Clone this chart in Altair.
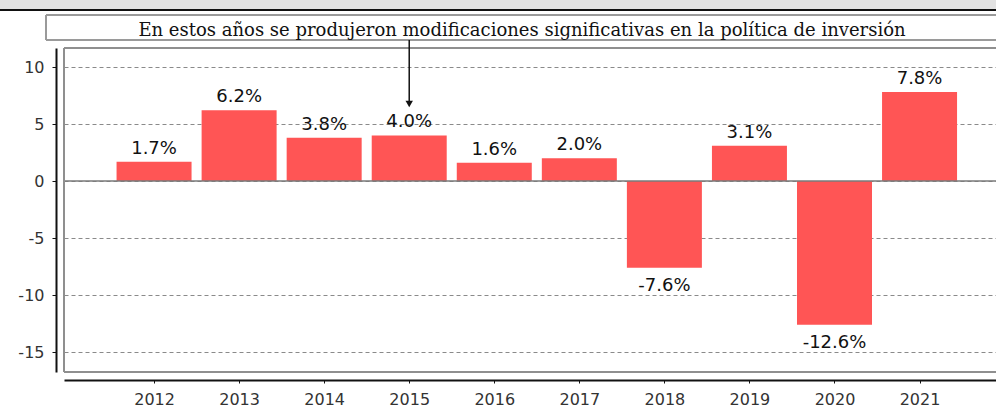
import altair as alt
import pandas as pd

years = [2012, 2013, 2014, 2015, 2016, 2017, 2018, 2019, 2020, 2021]
values = [1.7, 6.2, 3.8, 4.0, 1.6, 2.0, -7.6, 3.1, -12.6, 7.8]
labels = [f"{v:.1f}%" for v in values]
y_ticks = [-15, -10, -5, 0, 5, 10]
note = "En estos años se produjeron modificaciones significativas en la política de inversión"
note_year = 2015

df = pd.DataFrame({"year": years, "value": values, "label": labels})
one = pd.DataFrame({"k": [0]})

W, H = 932, 324
BAR = "#ff5555"
FRAME = "#8f8f8f"
R = W + 20  # runs off the right edge (clipped)

x_scale = alt.Scale(domain=[2011, 2021.84], nice=False, zero=False)
y_scale = alt.Scale(domain=[-16.75, 11.67], nice=False, zero=False)

x_axis = alt.Axis(values=years, format="d", title=None, offset=8, grid=False,
                  domainColor="#111", domainWidth=2, tickColor="#111", tickSize=3,
                  labelFontSize=16, labelFont="DejaVu Sans", labelColor="#333",
                  labelPadding=8)
y_axis = alt.Axis(values=y_ticks, title=None, offset=8, grid=True,
                  labelExpr="'' + datum.value",
                  gridDash=[4, 3], gridColor="#8a8a8a", gridWidth=1,
                  domainColor="#111", domainWidth=2, tickColor="#111", tickSize=4,
                  labelFontSize=16, labelFont="DejaVu Sans", labelColor="#333",
                  labelPadding=8)

# top gray band and dark line
band = alt.Chart(one).mark_rect(color="#e2e2e2").encode(
    x=alt.value(-64), x2=alt.value(R), y=alt.value(-48), y2=alt.value(-39))
band_line = alt.Chart(one).mark_rule(color="#111", strokeWidth=2).encode(
    x=alt.value(-64), x2=alt.value(R), y=alt.value(-38))

# annotation box (right edge runs off the page)
box_top = alt.Chart(one).mark_rule(color="#9a9a9a", strokeWidth=2).encode(
    x=alt.value(-18), x2=alt.value(R), y=alt.value(-33))
box_bottom = alt.Chart(one).mark_rule(color="#9a9a9a", strokeWidth=2).encode(
    x=alt.value(-18), x2=alt.value(R), y=alt.value(-8))
box_left = alt.Chart(one).mark_rule(color="#9a9a9a", strokeWidth=2).encode(
    x=alt.value(-18), y=alt.value(-33), y2=alt.value(-8))
box_text = alt.Chart(one).mark_text(font="DejaVu Serif", fontSize=18, color="#111",
                                    align="center", baseline="alphabetic").encode(
    x=alt.value(458), y=alt.value(-12.5), text=alt.value(note))

# frame
frame_left = alt.Chart(one).mark_rule(color=FRAME, strokeWidth=2).encode(
    x=alt.value(0), y=alt.value(0), y2=alt.value(H))
frame_top = alt.Chart(one).mark_rule(color=FRAME, strokeWidth=2).encode(
    x=alt.value(0), x2=alt.value(R), y=alt.value(0))
frame_bottom = alt.Chart(one).mark_rule(color=FRAME, strokeWidth=2).encode(
    x=alt.value(0), x2=alt.value(R), y=alt.value(H))

base = alt.Chart(df)
bars = base.mark_bar(color=BAR, size=75).encode(
    x=alt.X("year:Q", scale=x_scale, axis=x_axis),
    y=alt.Y("value:Q", scale=y_scale, axis=y_axis),
    y2=alt.datum(0))

zero = alt.Chart(one).mark_rule(color="#7a7a7a", strokeWidth=1.5).encode(
    x=alt.value(0), x2=alt.value(R), y=alt.datum(0))

pos_text = base.transform_filter("datum.value >= 0").mark_text(
    font="DejaVu Sans", fontSize=18, color="#111", baseline="alphabetic", dy=-8).encode(
    x="year:Q", y="value:Q", text="label:N")
neg_text = base.transform_filter("datum.value < 0").mark_text(
    font="DejaVu Sans", fontSize=18, color="#111", baseline="alphabetic", dy=23).encode(
    x="year:Q", y="value:Q", text="label:N")

arrow = alt.Chart(one).mark_rule(color="#111", strokeWidth=1.5).encode(
    x=alt.datum(note_year), y=alt.value(-8), y2=alt.value(54))
arrow_head = alt.Chart(one).mark_point(shape="triangle-down", filled=True, size=55,
                                       color="#111", opacity=1).encode(
    x=alt.datum(note_year), y=alt.value(56))

chart = alt.layer(
    band, band_line, box_top, box_bottom, box_left, box_text, bars, zero,
    frame_left, frame_top, frame_bottom, pos_text, neg_text, arrow, arrow_head
).properties(
    width=W, height=H, background="white",
    autosize=alt.AutoSizeParams(type="none"),
    padding={"left": 64, "top": 48, "right": 0, "bottom": 36},
).configure_view(stroke=None)

chart.save("out.html", embed_options={"renderer": "svg", "actions": False})
